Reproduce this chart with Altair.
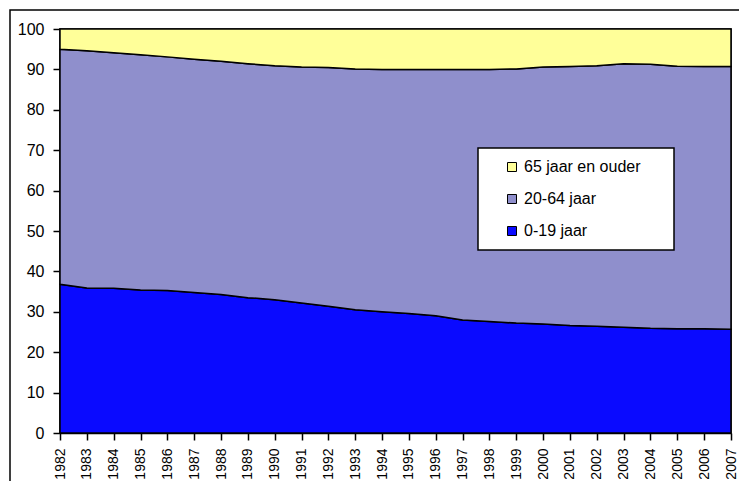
import altair as alt
import pandas as pd

years = list(range(1982, 2008))
groups = ["65 jaar en ouder", "20-64 jaar", "0-19 jaar"]
colors = ["#FFFF99", "#8F8FCC", "#0A0AFF"]

pct_0_19 = [36.8, 35.9, 35.8, 35.4, 35.3, 34.8, 34.3, 33.5, 33.0, 32.2, 31.4, 30.5, 30.0,
            29.6, 29.0, 28.0, 27.6, 27.2, 27.0, 26.6, 26.4, 26.2, 25.9, 25.8, 25.8, 25.7]
pct_20_64 = [58.2, 58.7, 58.3, 58.2, 57.8, 57.7, 57.7, 57.9, 57.9, 58.4, 59.1, 59.6, 60.0,
             60.4, 61.0, 62.0, 62.4, 62.9, 63.6, 64.1, 64.5, 65.2, 65.4, 65.0, 64.9, 65.0]
pct_65 = [5.0, 5.4, 5.9, 6.4, 6.9, 7.5, 8.0, 8.6, 9.1, 9.4, 9.5, 9.9, 10.0,
          10.0, 10.0, 10.0, 10.0, 9.9, 9.4, 9.3, 9.1, 8.6, 8.7, 9.2, 9.3, 9.3]
y_ticks = list(range(0, 101, 10))

rows = []
for series, name, order in [(pct_0_19, "0-19 jaar", 1), (pct_20_64, "20-64 jaar", 2), (pct_65, "65 jaar en ouder", 3)]:
    for yr, v in zip(years, series):
        rows.append({"jaar": yr, "pct": v, "groep": name, "ord": order})
df = pd.DataFrame(rows)

W, H = 671, 404

areas = alt.Chart(df).mark_area(stroke="black", strokeWidth=1.5, opacity=1, interpolate="linear").encode(
    x=alt.X("jaar:Q", scale=alt.Scale(domain=[1982, 2007], nice=False, zero=False),
            axis=alt.Axis(values=years, format="d", labelAngle=-90, title=None,
                          labelPadding=8, labelFlush=False, labelFontSize=14)),
    y=alt.Y("pct:Q", stack="zero", scale=alt.Scale(domain=[0, 100], nice=False),
            axis=alt.Axis(values=y_ticks, title=None, labelPadding=9, labelFontSize=16)),
    color=alt.Color("groep:N", scale=alt.Scale(domain=groups, range=colors),
                    legend=alt.Legend(title=None, orient="none", legendX=444, legendY=130,
                                      symbolType="square", symbolSize=81,
                                      symbolStrokeColor="black", symbolStrokeWidth=1,
                                      labelFontSize=16, labelFont="Liberation Sans",
                                      labelColor="black", rowPadding=16, labelOffset=4,
                                      padding=0)),
    order=alt.Order("ord:Q"),
)

one = alt.Data(values=[{}])

legend_box = alt.Chart(one).mark_rect(fill="white", stroke="black", strokeWidth=1.5).encode(
    x=alt.value(418), x2=alt.value(614), y=alt.value(119), y2=alt.value(221)
)

frame = alt.Chart(one).mark_rect(filled=False, stroke="black", strokeWidth=1.5).encode(
    x=alt.value(-50), x2=alt.value(720), y=alt.value(-19), y2=alt.value(500)
)

chart = alt.layer(areas, legend_box, frame).properties(
    width=W, height=H,
    autosize=alt.AutoSizeParams(type="none"),
    padding={"left": 52, "top": 21, "right": 8, "bottom": 48},
    background="white",
).configure_view(
    stroke="black", strokeWidth=1.5
).configure_axis(
    grid=False, domainColor="black", domainWidth=1.5, tickColor="black", tickWidth=1.5,
    tickSize=7, labelColor="black", labelFont="Liberation Sans",
)

chart.save("out.html", embed_options={"renderer": "svg", "actions": False})
